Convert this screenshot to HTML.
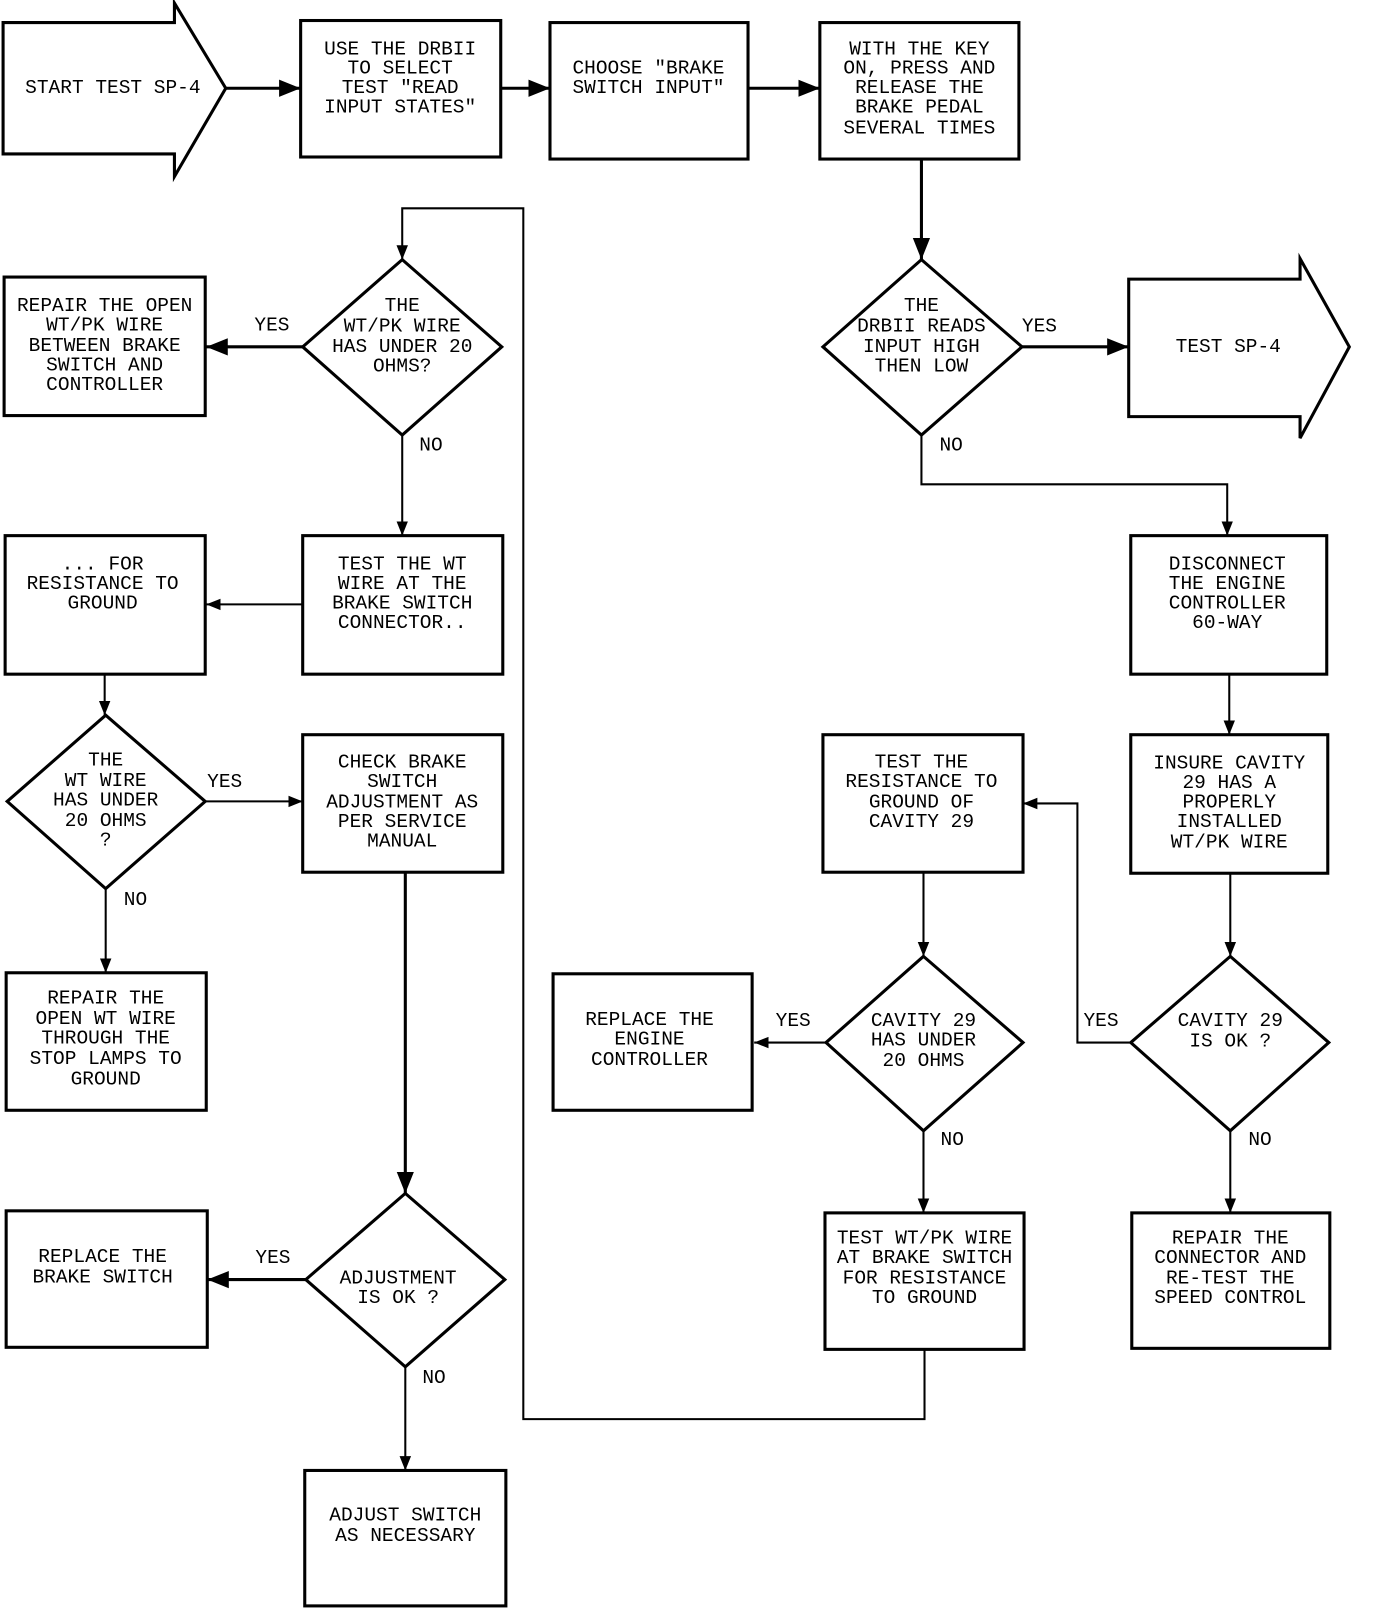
<!DOCTYPE html>
<html><head><meta charset="utf-8"><style>
html,body{margin:0;padding:0;background:#fff}
svg{display:block}
text{font-family:"Liberation Mono",monospace;font-size:19px;fill:#000;text-anchor:middle;dominant-baseline:central}
.s{fill:none;stroke:#000;stroke-width:2}
.b{fill:#fff;stroke:#000;stroke-width:3}
</style></head><body>
<svg width="1376" height="1610" viewBox="0 0 1341 1569" preserveAspectRatio="none" xmlns="http://www.w3.org/2000/svg">
<defs><marker id="a" viewBox="0 0 10 10" refX="10" refY="5" markerWidth="7" markerHeight="7" orient="auto"><path d="M0,1 L10,5 L0,9 z" fill="#000"/></marker></defs>

<!-- connectors -->
<g class="s" marker-end="url(#a)">
<path d="M220,86 H293" stroke-width="3"/>
<path d="M488,86 H536" stroke-width="3"/>
<path d="M729,86 H799" stroke-width="3"/>
<path d="M898,155 V253" stroke-width="3"/>
<path d="M996,338 H1100" stroke-width="3"/>
<path d="M898,424 V472 H1196 V522"/>
<path d="M1198,657 V716"/>
<path d="M1199,851 V932"/>
<path d="M1102,1016 H1050 V783 H997"/>
<path d="M1199,1102 V1182"/>
<path d="M900,850 V932"/>
<path d="M805,1016 H735"/>
<path d="M900,1102 V1182"/>
<path d="M901,1315 V1383 H510 V203 H392 V253"/>
<path d="M295,338 H201" stroke-width="3"/>
<path d="M392,424 V522"/>
<path d="M295,589 H201"/>
<path d="M102,657 V697"/>
<path d="M200,781 H295"/>
<path d="M103,866 V948"/>
<path d="M395,850 V1163" stroke-width="3"/>
<path d="M298,1247 H202" stroke-width="3"/>
<path d="M395,1332 V1433"/>
</g>

<!-- shapes -->
<polygon class="b" points="3,22 170,22 170,3 220,86 170,172 170,150 3,150"/>
<polygon class="b" points="1100,272 1267,272 1267,252 1315,338 1267,427 1267,406 1100,406"/>
<rect class="b" x="293" y="20" width="195" height="133"/>
<rect class="b" x="536" y="22" width="193" height="133"/>
<rect class="b" x="799" y="22" width="194" height="133"/>
<polygon class="b" points="898,253 996,338 898,424 802,338"/>
<polygon class="b" points="392,253 489,338 392,424 295,338"/>
<rect class="b" x="4" y="270" width="196" height="135"/>
<rect class="b" x="295" y="522" width="195" height="135"/>
<rect class="b" x="5" y="522" width="195" height="135"/>
<polygon class="b" points="103,697 200,781 103,866 7,781"/>
<rect class="b" x="295" y="716" width="195" height="134"/>
<rect class="b" x="6" y="948" width="195" height="134"/>
<polygon class="b" points="395,1163 492,1247 395,1332 298,1247"/>
<rect class="b" x="6" y="1180" width="196" height="133"/>
<rect class="b" x="297" y="1433" width="196" height="132"/>
<rect class="b" x="1102" y="522" width="191" height="135"/>
<rect class="b" x="1102" y="716" width="192" height="135"/>
<polygon class="b" points="1199,932 1295,1016 1199,1102 1102,1016"/>
<rect class="b" x="1103" y="1182" width="193" height="132"/>
<rect class="b" x="802" y="716" width="195" height="134"/>
<polygon class="b" points="900,932 997,1016 900,1102 805,1016"/>
<rect class="b" x="539" y="949" width="194" height="133"/>
<rect class="b" x="804" y="1182" width="194" height="133"/>

<!-- text -->
<text x="110" y="86">START TEST SP-4</text>
<text x="390" y="48">USE THE DRBII</text><text x="390" y="67">TO SELECT</text><text x="390" y="86">TEST "READ</text><text x="390" y="105">INPUT STATES"</text>
<text x="632" y="67">CHOOSE "BRAKE</text><text x="632" y="86">SWITCH INPUT"</text>
<text x="896" y="48">WITH THE KEY</text><text x="896" y="67">ON, PRESS AND</text><text x="896" y="86">RELEASE THE</text><text x="896" y="105">BRAKE PEDAL</text><text x="896" y="125">SEVERAL TIMES</text>
<text x="898" y="298">THE</text><text x="898" y="318">DRBII READS</text><text x="898" y="338">INPUT HIGH</text><text x="898" y="357">THEN LOW</text>
<text x="1013" y="318">YES</text>
<text x="1197" y="338">TEST SP-4</text>
<text x="927" y="434">NO</text>
<text x="1196" y="550">DISCONNECT</text><text x="1196" y="569">THE ENGINE</text><text x="1196" y="588">CONTROLLER</text><text x="1196" y="607">60-WAY</text>
<text x="1198" y="744">INSURE CAVITY</text><text x="1198" y="763">29 HAS A</text><text x="1198" y="782">PROPERLY</text><text x="1198" y="801">INSTALLED</text><text x="1198" y="821">WT/PK WIRE</text>
<text x="1199" y="995">CAVITY 29</text><text x="1199" y="1015">IS OK ?</text>
<text x="1073" y="995">YES</text>
<text x="1228" y="1111">NO</text>
<text x="1199" y="1207">REPAIR THE</text><text x="1199" y="1226">CONNECTOR AND</text><text x="1199" y="1246">RE-TEST THE</text><text x="1199" y="1265">SPEED CONTROL</text>
<text x="898" y="743">TEST THE</text><text x="898" y="762">RESISTANCE TO</text><text x="898" y="782">GROUND OF</text><text x="898" y="801">CAVITY 29</text>
<text x="900" y="995">CAVITY 29</text><text x="900" y="1014">HAS UNDER</text><text x="900" y="1034">20 OHMS</text>
<text x="773" y="995">YES</text>
<text x="928" y="1111">NO</text>
<text x="633" y="994">REPLACE THE</text><text x="633" y="1013">ENGINE</text><text x="633" y="1033">CONTROLLER</text>
<text x="901" y="1207">TEST WT/PK WIRE</text><text x="901" y="1226">AT BRAKE SWITCH</text><text x="901" y="1246">FOR RESISTANCE</text><text x="901" y="1265">TO GROUND</text>
<text x="392" y="298">THE</text><text x="392" y="318">WT/PK WIRE</text><text x="392" y="338">HAS UNDER 20</text><text x="392" y="357">OHMS?</text>
<text x="265" y="317">YES</text>
<text x="102" y="298">REPAIR THE OPEN</text><text x="102" y="317">WT/PK WIRE</text><text x="102" y="337">BETWEEN BRAKE</text><text x="102" y="356">SWITCH AND</text><text x="102" y="375">CONTROLLER</text>
<text x="420" y="434">NO</text>
<text x="392" y="550">TEST THE WT</text><text x="392" y="569">WIRE AT THE</text><text x="392" y="588">BRAKE SWITCH</text><text x="392" y="607">CONNECTOR..</text>
<text x="100" y="550">... FOR</text><text x="100" y="569">RESISTANCE TO</text><text x="100" y="588">GROUND</text>
<text x="103" y="741">THE</text><text x="103" y="761">WT WIRE</text><text x="103" y="780">HAS UNDER</text><text x="103" y="800">20 OHMS</text><text x="103" y="819">?</text>
<text x="219" y="762">YES</text>
<text x="392" y="743">CHECK BRAKE</text><text x="392" y="762">SWITCH</text><text x="392" y="782">ADJUSTMENT AS</text><text x="392" y="801">PER SERVICE</text><text x="392" y="820">MANUAL</text>
<text x="132" y="877">NO</text>
<text x="103" y="973">REPAIR THE</text><text x="103" y="993">OPEN WT WIRE</text><text x="103" y="1012">THROUGH THE</text><text x="103" y="1032">STOP LAMPS TO</text><text x="103" y="1052">GROUND</text>
<text x="388" y="1246">ADJUSTMENT</text><text x="388" y="1265">IS OK ?</text>
<text x="266" y="1226">YES</text>
<text x="100" y="1225">REPLACE THE</text><text x="100" y="1245">BRAKE SWITCH</text>
<text x="423" y="1343">NO</text>
<text x="395" y="1477">ADJUST SWITCH</text><text x="395" y="1497">AS NECESSARY</text>
</svg>
</body></html>
